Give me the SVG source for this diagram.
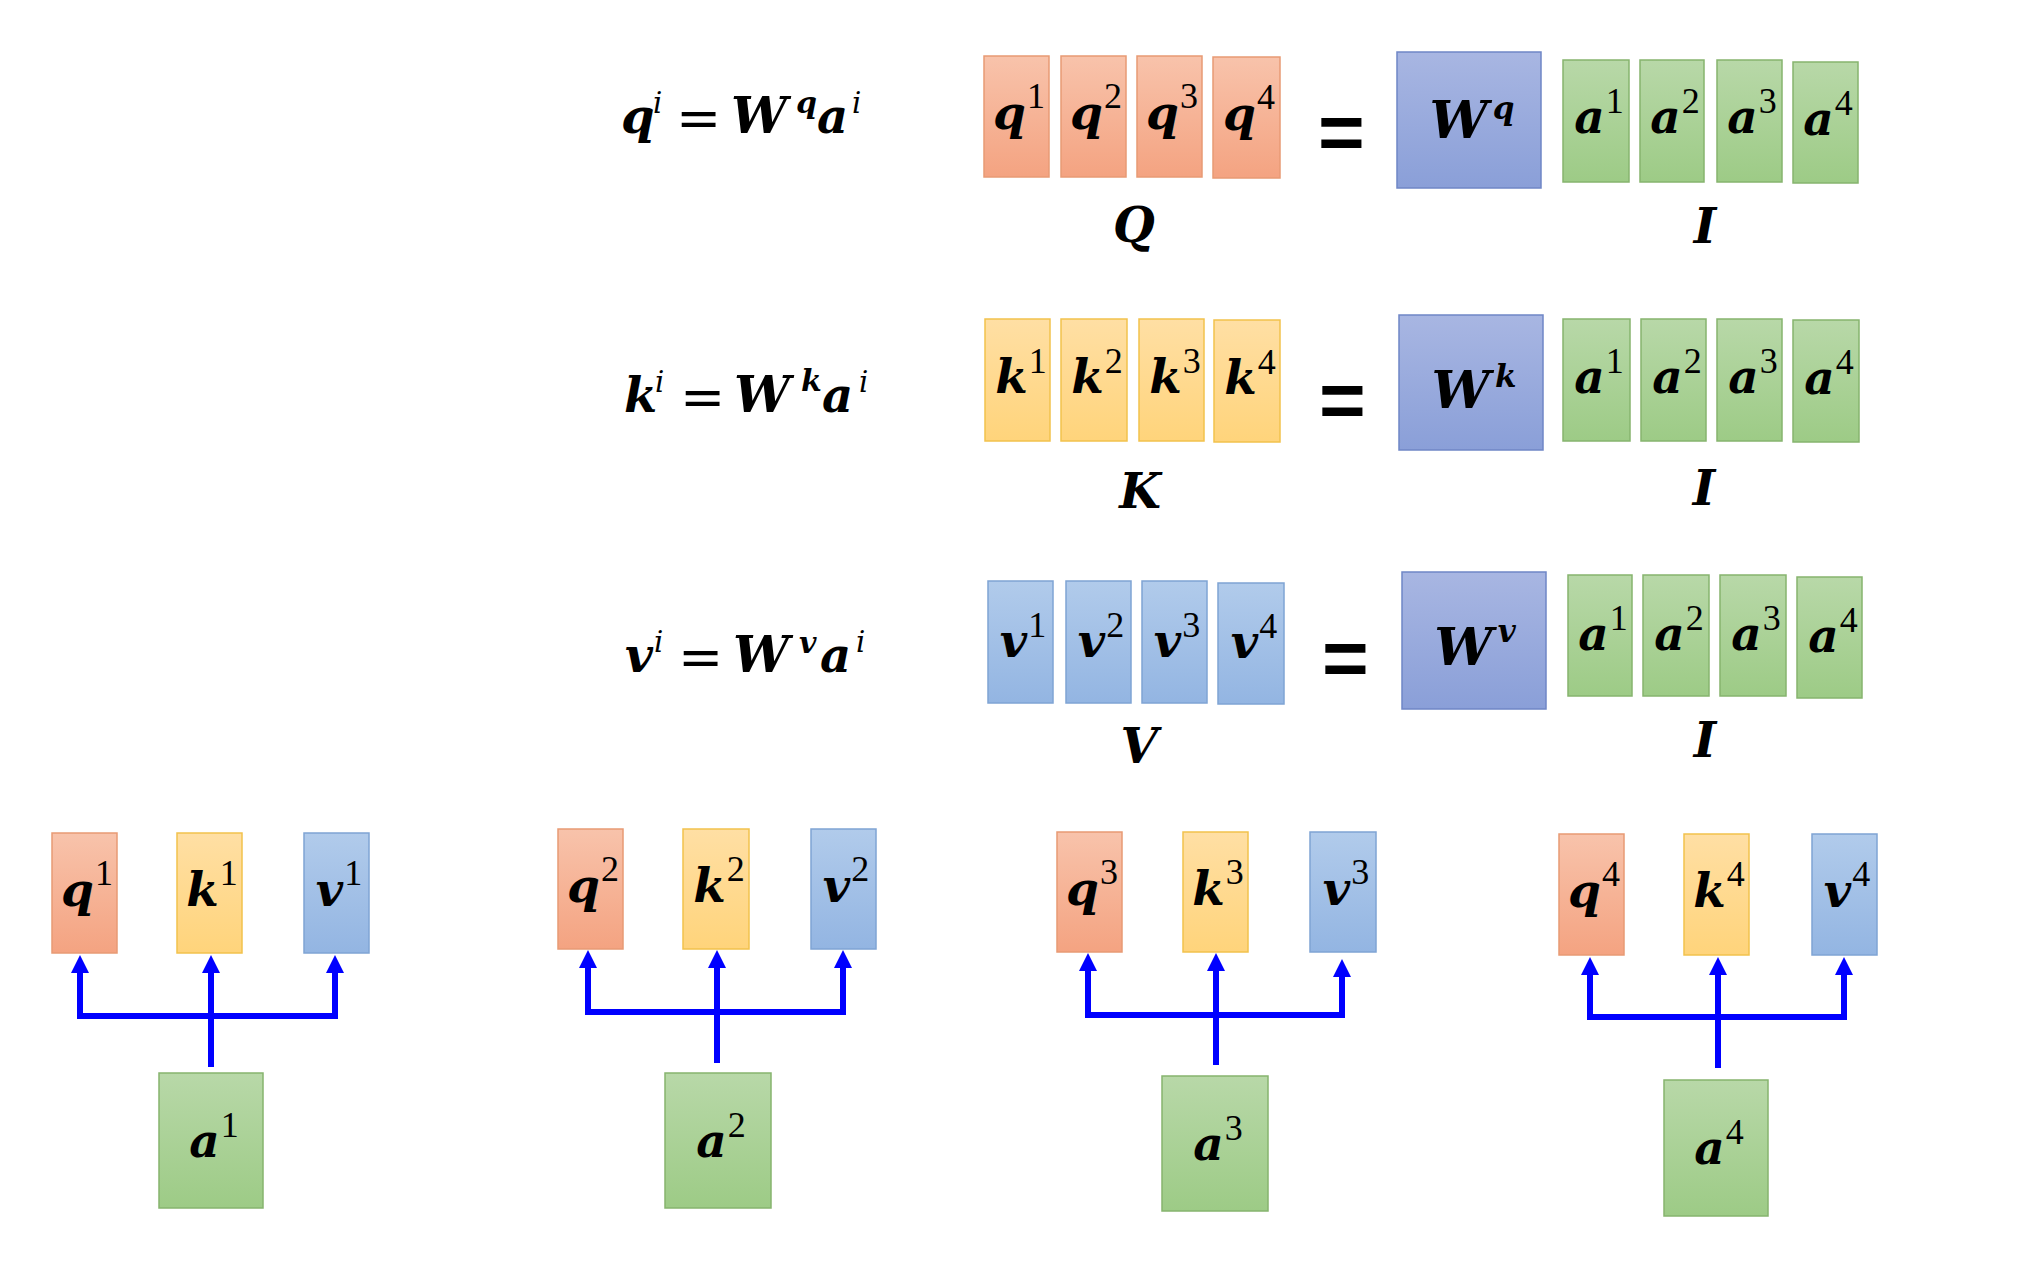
<svg xmlns="http://www.w3.org/2000/svg" width="2020" height="1272" viewBox="0 0 2020 1272">
<defs>
<linearGradient id="gO" x1="0" y1="0" x2="0" y2="1"><stop offset="0" stop-color="#F8C3AB"/><stop offset="1" stop-color="#F4A381"/></linearGradient>
<linearGradient id="gY" x1="0" y1="0" x2="0" y2="1"><stop offset="0" stop-color="#FFDFA4"/><stop offset="1" stop-color="#FFD47B"/></linearGradient>
<linearGradient id="gB" x1="0" y1="0" x2="0" y2="1"><stop offset="0" stop-color="#B1CBEB"/><stop offset="1" stop-color="#93B5E2"/></linearGradient>
<linearGradient id="gG" x1="0" y1="0" x2="0" y2="1"><stop offset="0" stop-color="#B8D8A8"/><stop offset="1" stop-color="#9DCB86"/></linearGradient>
<linearGradient id="gW" x1="0" y1="0" x2="0" y2="1"><stop offset="0" stop-color="#A8B6E2"/><stop offset="1" stop-color="#8A9FD8"/></linearGradient>
<marker id="ah" viewBox="0 0 18 18" refX="6" refY="9" markerWidth="18" markerHeight="18" markerUnits="userSpaceOnUse" orient="auto-start-reverse"><path d="M0,0 L18,9 L0,18 z" fill="#0000FF"/></marker>
</defs>
<style>
.o{fill:url(#gO);stroke:#E89A74;stroke-width:1.5}
.y{fill:url(#gY);stroke:#F2C24C;stroke-width:1.5}
.b{fill:url(#gB);stroke:#7FA4D4;stroke-width:1.5}
.g{fill:url(#gG);stroke:#86B46E;stroke-width:1.5}
.w{fill:url(#gW);stroke:#6F86C6;stroke-width:1.5}
.m{font-family:"DejaVu Serif",serif;font-weight:bold;font-style:italic;fill:#000}
.lb{font-size:47px}
.sd{font-family:"Liberation Serif",serif;font-weight:normal;font-style:normal;font-size:36px}
.si{font-family:"DejaVu Serif",serif;font-weight:normal;font-style:italic;font-size:29px}
.eqs{font-family:"DejaVu Serif",serif;font-weight:normal;font-style:normal;font-size:54px}
.big{font-family:"Liberation Sans",sans-serif;font-weight:bold;font-size:80px;fill:#000}
.cap{font-family:"DejaVu Serif",serif;font-weight:bold;font-style:italic;font-size:48px;text-anchor:middle}
.c{fill:none;stroke:#0000FF;stroke-width:6;stroke-linejoin:miter}
</style>
<rect width="2020" height="1272" fill="#FFFFFF"/>

<g id="eq-q"><text class="m" style="font-size:48px"><tspan x="621" y="133">q</tspan><tspan class="si" x="653" y="113">i</tspan><tspan class="eqs" x="676" y="137">=</tspan><tspan x="731" y="133" style="font-size:50px">W</tspan><tspan x="796" y="113" style="font-size:30px">q</tspan><tspan x="817" y="133">a</tspan><tspan class="si" x="852" y="113">i</tspan></text></g>
<g id="eq-k"><text class="m" style="font-size:48px"><tspan x="624" y="412">k</tspan><tspan class="si" x="655" y="392">i</tspan><tspan class="eqs" x="680" y="416">=</tspan><tspan x="734" y="412" style="font-size:50px">W</tspan><tspan x="801" y="391" style="font-size:30px">k</tspan><tspan x="822" y="412">a</tspan><tspan class="si" x="859" y="392">i</tspan></text></g>
<g id="eq-v"><text class="m" style="font-size:48px"><tspan x="625" y="672">v</tspan><tspan class="si" x="654" y="652">i</tspan><tspan class="eqs" x="678" y="676">=</tspan><tspan x="733" y="672" style="font-size:50px">W</tspan><tspan x="799" y="653" style="font-size:30px">v</tspan><tspan x="820" y="672">a</tspan><tspan class="si" x="856" y="652">i</tspan></text></g>

<g id="Q-matrix">
<rect class="o" x="984" y="56" width="65" height="121"/><text class="m lb" x="1019" y="129" text-anchor="middle">q<tspan class="sd" dx="1" dy="-21">1</tspan></text>
<rect class="o" x="1061" y="56" width="65" height="121"/><text class="m lb" x="1096" y="129" text-anchor="middle">q<tspan class="sd" dx="1" dy="-21">2</tspan></text>
<rect class="o" x="1137" y="56" width="65" height="121"/><text class="m lb" x="1172" y="129" text-anchor="middle">q<tspan class="sd" dx="1" dy="-21">3</tspan></text>
<rect class="o" x="1213" y="57" width="67" height="121"/><text class="m lb" x="1249" y="130" text-anchor="middle">q<tspan class="sd" dx="1" dy="-21">4</tspan></text>
<text class="cap" x="1134" y="242">Q</text>
</g>
<g id="eq-sign-q"><text class="big" x="1318" y="159">=</text></g>
<g id="Wq"><rect class="w" x="1397" y="52" width="144" height="136"/><text class="m" x="1472" y="138" text-anchor="middle" style="font-size:52px">W<tspan dx="5" dy="-19" style="font-size:31px">q</tspan></text></g>
<g id="I-q">
<rect class="g" x="1563" y="60" width="66" height="122"/><text class="m lb" x="1599" y="133" text-anchor="middle">a<tspan class="sd" dx="1" dy="-20">1</tspan></text>
<rect class="g" x="1640" y="60" width="64" height="122"/><text class="m lb" x="1675" y="133" text-anchor="middle">a<tspan class="sd" dx="1" dy="-20">2</tspan></text>
<rect class="g" x="1717" y="60" width="65" height="122"/><text class="m lb" x="1752" y="133" text-anchor="middle">a<tspan class="sd" dx="1" dy="-20">3</tspan></text>
<rect class="g" x="1793" y="62" width="65" height="121"/><text class="m lb" x="1828" y="135" text-anchor="middle">a<tspan class="sd" dx="1" dy="-20">4</tspan></text>
<text class="cap" x="1705" y="243">I</text>
</g>

<g id="K-matrix">
<rect class="y" x="985" y="319" width="65" height="122"/><text class="m lb" x="1021" y="393" text-anchor="middle">k<tspan class="sd" dx="1" dy="-20">1</tspan></text>
<rect class="y" x="1061" y="319" width="66" height="122"/><text class="m lb" x="1097" y="393" text-anchor="middle">k<tspan class="sd" dx="1" dy="-20">2</tspan></text>
<rect class="y" x="1139" y="319" width="65" height="122"/><text class="m lb" x="1175" y="393" text-anchor="middle">k<tspan class="sd" dx="1" dy="-20">3</tspan></text>
<rect class="y" x="1214" y="320" width="66" height="122"/><text class="m lb" x="1250" y="394" text-anchor="middle">k<tspan class="sd" dx="1" dy="-20">4</tspan></text>
<text class="cap" x="1140" y="508">K</text>
</g>
<g id="eq-sign-k"><text class="big" x="1319" y="427">=</text></g>
<g id="Wk"><rect class="w" x="1399" y="315" width="144" height="135"/><text class="m" x="1474" y="408" text-anchor="middle" style="font-size:52px">W<tspan dx="5" dy="-21" style="font-size:31px">k</tspan></text></g>
<g id="I-k">
<rect class="g" x="1563" y="319" width="67" height="122"/><text class="m lb" x="1599" y="393" text-anchor="middle">a<tspan class="sd" dx="1" dy="-20">1</tspan></text>
<rect class="g" x="1641" y="319" width="65" height="122"/><text class="m lb" x="1677" y="393" text-anchor="middle">a<tspan class="sd" dx="1" dy="-20">2</tspan></text>
<rect class="g" x="1717" y="319" width="65" height="122"/><text class="m lb" x="1753" y="393" text-anchor="middle">a<tspan class="sd" dx="1" dy="-20">3</tspan></text>
<rect class="g" x="1793" y="320" width="66" height="122"/><text class="m lb" x="1829" y="394" text-anchor="middle">a<tspan class="sd" dx="1" dy="-20">4</tspan></text>
<text class="cap" x="1704" y="505">I</text>
</g>

<g id="V-matrix">
<rect class="b" x="988" y="581" width="65" height="122"/><text class="m lb" x="1023" y="657" text-anchor="middle">v<tspan class="sd" dx="1" dy="-20">1</tspan></text>
<rect class="b" x="1066" y="581" width="65" height="122"/><text class="m lb" x="1101" y="657" text-anchor="middle">v<tspan class="sd" dx="1" dy="-20">2</tspan></text>
<rect class="b" x="1142" y="581" width="65" height="122"/><text class="m lb" x="1177" y="657" text-anchor="middle">v<tspan class="sd" dx="1" dy="-20">3</tspan></text>
<rect class="b" x="1218" y="583" width="66" height="121"/><text class="m lb" x="1254" y="658" text-anchor="middle">v<tspan class="sd" dx="1" dy="-20">4</tspan></text>
<text class="cap" x="1139" y="763">V</text>
</g>
<g id="eq-sign-v"><text class="big" x="1322" y="685">=</text></g>
<g id="Wv"><rect class="w" x="1402" y="572" width="144" height="137"/><text class="m" x="1475" y="665" text-anchor="middle" style="font-size:52px">W<tspan dx="5" dy="-23" style="font-size:31px">v</tspan></text></g>
<g id="I-v">
<rect class="g" x="1568" y="575" width="64" height="121"/><text class="m lb" x="1603" y="650" text-anchor="middle">a<tspan class="sd" dx="1" dy="-20">1</tspan></text>
<rect class="g" x="1643" y="575" width="66" height="121"/><text class="m lb" x="1679" y="650" text-anchor="middle">a<tspan class="sd" dx="1" dy="-20">2</tspan></text>
<rect class="g" x="1720" y="575" width="66" height="121"/><text class="m lb" x="1756" y="650" text-anchor="middle">a<tspan class="sd" dx="1" dy="-20">3</tspan></text>
<rect class="g" x="1797" y="577" width="65" height="121"/><text class="m lb" x="1833" y="652" text-anchor="middle">a<tspan class="sd" dx="1" dy="-20">4</tspan></text>
<text class="cap" x="1705" y="757">I</text>
</g>

<g id="q1"><rect class="o" x="52" y="833" width="65" height="120"/><text class="m lb" x="87" y="906" text-anchor="middle">q<tspan class="sd" dx="1" dy="-21">1</tspan></text></g>
<g id="k1"><rect class="y" x="177" y="833" width="65" height="120"/><text class="m lb" x="212" y="906" text-anchor="middle">k<tspan class="sd" dx="1" dy="-21">1</tspan></text></g>
<g id="v1"><rect class="b" x="304" y="833" width="65" height="120"/><text class="m lb" x="339" y="906" text-anchor="middle">v<tspan class="sd" dx="1" dy="-21">1</tspan></text></g>
<g id="a1"><rect class="g" x="159" y="1073" width="104" height="135"/><text class="m lb" x="214" y="1157" text-anchor="middle">a<tspan class="sd" dx="1" dy="-20">1</tspan></text></g>

<g id="q2"><rect class="o" x="558" y="829" width="65" height="120"/><text class="m lb" x="593" y="902" text-anchor="middle">q<tspan class="sd" dx="1" dy="-21">2</tspan></text></g>
<g id="k2"><rect class="y" x="683" y="829" width="66" height="120"/><text class="m lb" x="719" y="902" text-anchor="middle">k<tspan class="sd" dx="1" dy="-21">2</tspan></text></g>
<g id="v2"><rect class="b" x="811" y="829" width="65" height="120"/><text class="m lb" x="846" y="902" text-anchor="middle">v<tspan class="sd" dx="1" dy="-21">2</tspan></text></g>
<g id="a2"><rect class="g" x="665" y="1073" width="106" height="135"/><text class="m lb" x="721" y="1157" text-anchor="middle">a<tspan class="sd" dx="1" dy="-20">2</tspan></text></g>

<g id="q3"><rect class="o" x="1057" y="832" width="65" height="120"/><text class="m lb" x="1092" y="905" text-anchor="middle">q<tspan class="sd" dx="1" dy="-21">3</tspan></text></g>
<g id="k3"><rect class="y" x="1183" y="832" width="65" height="120"/><text class="m lb" x="1218" y="905" text-anchor="middle">k<tspan class="sd" dx="1" dy="-21">3</tspan></text></g>
<g id="v3"><rect class="b" x="1310" y="832" width="66" height="120"/><text class="m lb" x="1346" y="905" text-anchor="middle">v<tspan class="sd" dx="1" dy="-21">3</tspan></text></g>
<g id="a3"><rect class="g" x="1162" y="1076" width="106" height="135"/><text class="m lb" x="1218" y="1160" text-anchor="middle">a<tspan class="sd" dx="1" dy="-20">3</tspan></text></g>

<g id="q4"><rect class="o" x="1559" y="834" width="65" height="121"/><text class="m lb" x="1594" y="907" text-anchor="middle">q<tspan class="sd" dx="1" dy="-21">4</tspan></text></g>
<g id="k4"><rect class="y" x="1684" y="834" width="65" height="121"/><text class="m lb" x="1719" y="907" text-anchor="middle">k<tspan class="sd" dx="1" dy="-21">4</tspan></text></g>
<g id="v4"><rect class="b" x="1812" y="834" width="65" height="121"/><text class="m lb" x="1847" y="907" text-anchor="middle">v<tspan class="sd" dx="1" dy="-21">4</tspan></text></g>
<g id="a4"><rect class="g" x="1664" y="1080" width="104" height="136"/><text class="m lb" x="1719" y="1164" text-anchor="middle">a<tspan class="sd" dx="1" dy="-20">4</tspan></text></g>

<g id="connectors">
<path class="c" d="M80,967 V1016 H335 V967" marker-start="url(#ah)" marker-end="url(#ah)"/>
<path class="c" d="M211,1067 V967" marker-end="url(#ah)"/>
<path class="c" d="M588,962 V1012 H843 V962" marker-start="url(#ah)" marker-end="url(#ah)"/>
<path class="c" d="M717,1063 V962" marker-end="url(#ah)"/>
<path class="c" d="M1088,965 V1015 H1342 V971" marker-start="url(#ah)" marker-end="url(#ah)"/>
<path class="c" d="M1216,1065 V965" marker-end="url(#ah)"/>
<path class="c" d="M1590,969 V1017 H1844 V969" marker-start="url(#ah)" marker-end="url(#ah)"/>
<path class="c" d="M1718,1068 V969" marker-end="url(#ah)"/>
</g>
</svg>
